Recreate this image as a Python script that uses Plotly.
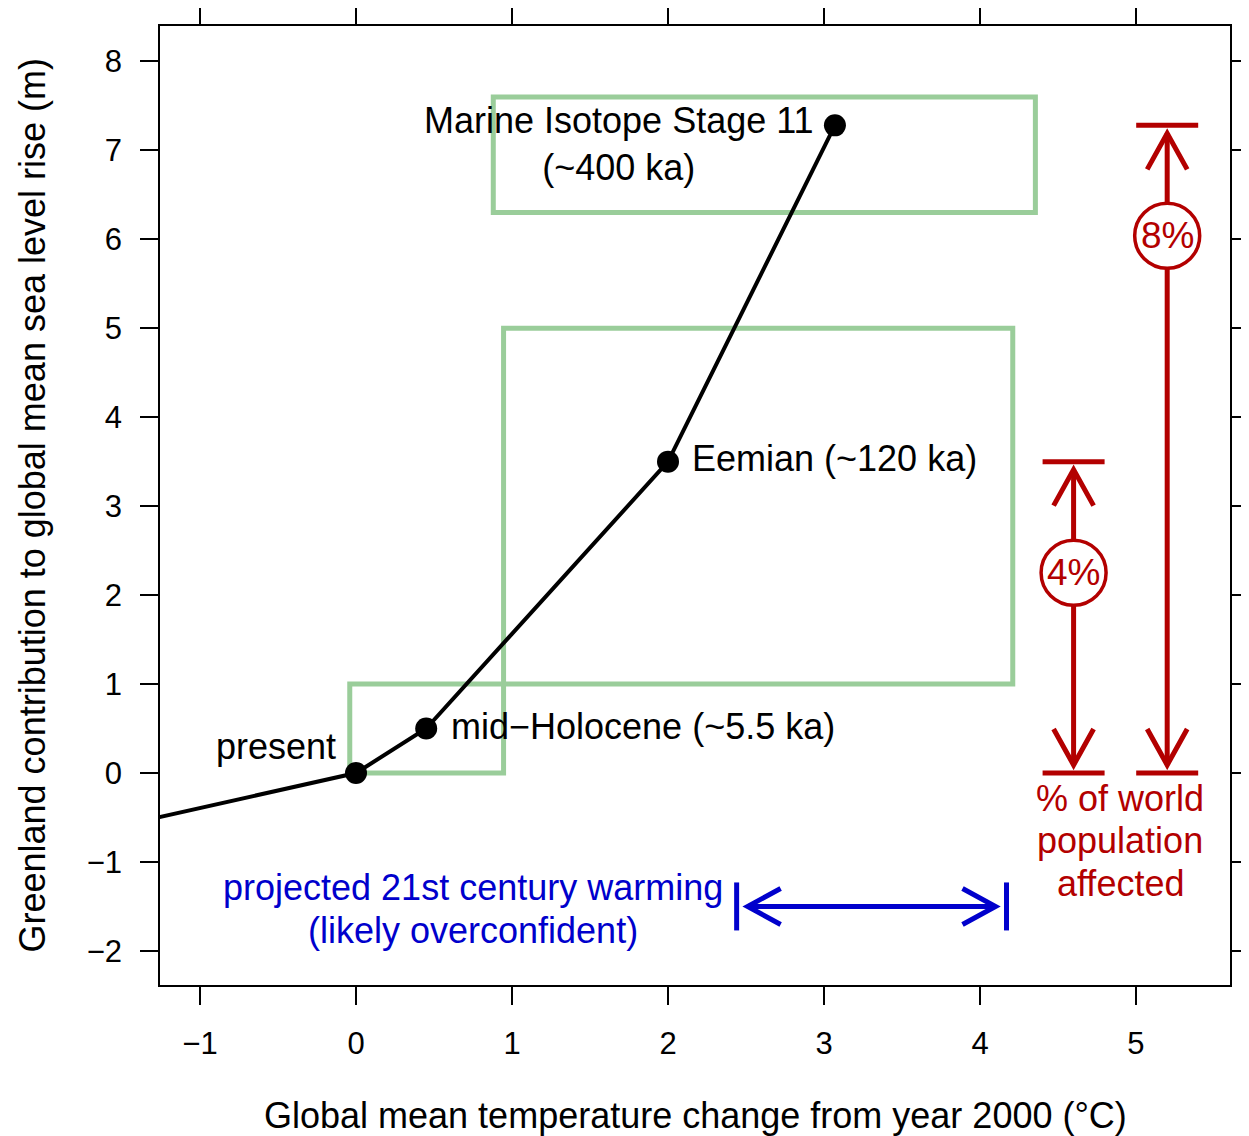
import plotly.graph_objects as go

# Greenland curve (°C warming vs. sea level contribution, m)
curve_x = [-1.5, 0.0, 0.45, 2.0, 3.07]
curve_y = [-0.59, 0.0, 0.5, 3.5, 7.28]

point_x = [0.0, 0.45, 2.0, 3.07]
point_y = [0.0, 0.5, 3.5, 7.28]

# paleo uncertainty boxes
box_x0 = [-0.04, 0.946, 0.88]
box_x1 = [0.946, 4.21, 4.355]
box_y0 = [0.0, 1.0, 6.3]
box_y1 = [1.0, 5.0, 7.6]

# population affected
pop_x = [4.6, 5.2]
pop_top = [3.5, 7.28]
pop_pct = ["4%", "8%"]
pop_circle_y = [2.25, 6.04]
pop_text = ["% of world", "population", "affected"]

# projected 21st century warming
warm_lo, warm_hi, warm_y = 2.44, 4.17, -1.5
warm_text = ["projected 21st century warming", "(likely overconfident)"]

x_range = [-1.2564, 5.6026]
y_range = [-2.383, 8.397]

# page body has an 8px margin, so shift the figure frame accordingly
W, H = 1249, 1136
ML, MR, MT, MB = 152, 27, 18, 159
py = (H - MT - MB) / (y_range[1] - y_range[0])  # px per metre
px = (W - ML - MR) / (x_range[1] - x_range[0])

RED = "#B30000"
BLUE = "#0000CC"
GREEN = "#9ACD9A"
FONT = "Liberation Sans, Arial, Helvetica, sans-serif"

fig = go.Figure()
fig.add_trace(go.Scatter(x=curve_x, y=curve_y, mode="lines",
                         line=dict(color="black", width=4), hoverinfo="skip"))
fig.add_trace(go.Scatter(x=point_x, y=point_y, mode="markers",
                         marker=dict(color="black", size=22), hoverinfo="skip"))

shapes = []
for x0, x1, y0, y1 in zip(box_x0, box_x1, box_y0, box_y1):
    shapes.append(dict(type="rect", x0=x0, x1=x1, y0=y0, y1=y1, layer="below",
                       line=dict(color=GREEN, width=5)))

gap = 8 / py
for x, top, cy in zip(pop_x, pop_top, pop_circle_y):
    shapes.append(dict(type="line", x0=x, x1=x, y0=gap, y1=top - gap,
                       line=dict(color=RED, width=5)))
    for yy in (0, top):
        shapes.append(dict(type="line", xref="x", yref="y", xsizemode="pixel",
                           xanchor=x, x0=-31, x1=31, y0=yy, y1=yy,
                           line=dict(color=RED, width=5)))
    shapes.append(dict(type="path", xsizemode="pixel", ysizemode="pixel",
                       xanchor=x, yanchor=top, path="M-20,-44 L0,-8 L20,-44",
                       line=dict(color=RED, width=5)))
    shapes.append(dict(type="path", xsizemode="pixel", ysizemode="pixel",
                       xanchor=x, yanchor=0, path="M-20,44 L0,8 L20,44",
                       line=dict(color=RED, width=5)))
    shapes.append(dict(type="circle", xsizemode="pixel", ysizemode="pixel",
                       xanchor=x, yanchor=cy, x0=-32.5, x1=32.5, y0=-32.5, y1=32.5,
                       fillcolor="white", line=dict(color=RED, width=3.5)))

tip = 11 / px
shapes.append(dict(type="line", x0=warm_lo + tip, x1=warm_hi - tip, y0=warm_y, y1=warm_y,
                   line=dict(color=BLUE, width=5)))
for xx, sgn in ((warm_lo, 1), (warm_hi, -1)):
    shapes.append(dict(type="line", ysizemode="pixel", yanchor=warm_y,
                       x0=xx, x1=xx, y0=-24, y1=24, line=dict(color=BLUE, width=5)))
    shapes.append(dict(type="path", xsizemode="pixel", ysizemode="pixel",
                       xanchor=xx, yanchor=warm_y,
                       path=f"M{sgn*44},18 L{sgn*11},0 L{sgn*44},-18",
                       line=dict(color=BLUE, width=5)))

ann = []
tf = dict(family=FONT, size=36, color="black")
ann.append(dict(x=point_x[0], y=point_y[0], text="present", xanchor="right",
                yanchor="middle", xshift=-18, yshift=27, font=tf))
ann.append(dict(x=point_x[1], y=point_y[1], text="mid−Holocene (~5.5 ka)", xanchor="left",
                yanchor="middle", xshift=23, yshift=2, font=tf))
ann.append(dict(x=point_x[2], y=point_y[2], text="Eemian (~120 ka)", xanchor="left",
                yanchor="middle", xshift=22, yshift=3, font=tf))
ann.append(dict(x=point_x[3], y=point_y[3], text="Marine Isotope Stage 11<br>(~400 ka)",
                xanchor="right", yanchor="middle", align="center",
                xshift=-19, yshift=-19, font=tf))
for i, (x, cy) in enumerate(zip(pop_x, pop_circle_y)):
    ann.append(dict(x=x, y=cy, text=pop_pct[i], xanchor="center", yanchor="middle",
                    showarrow=False, font=dict(family=FONT, size=37, color=RED)))
for i, t in enumerate(pop_text):
    ann.append(dict(x=4.9, y=0, text=t, xanchor="center", yanchor="middle",
                    yshift=-25 - 42.5 * i, font=dict(family=FONT, size=36, color=RED)))
for i, t in enumerate(warm_text):
    ann.append(dict(x=0.75, y=warm_y, text=t, xanchor="center", yanchor="middle",
                    yshift=19 - 43 * i, font=dict(family=FONT, size=36, color=BLUE)))
ann.append(dict(xref="paper", yref="paper", x=0.5, y=-(1115 - 985) / (H - MT - MB),
                text="Global mean temperature change from year 2000 (°C)",
                xanchor="center", yanchor="middle", font=tf))
ann.append(dict(xref="paper", yref="paper", x=-(128) / (W - ML - MR), y=0.5,
                text="Greenland contribution to global mean sea level rise (m)",
                textangle=-90, xanchor="center", yanchor="middle", font=tf))
for a in ann:
    a["showarrow"] = False

axis = dict(showgrid=False, zeroline=False, showline=True, linecolor="black", linewidth=1.5,
            mirror="ticks", ticks="outside", ticklen=18, tickwidth=1.5, tickcolor="black",
            tickfont=dict(family=FONT, size=31, color="black"))

fig.update_layout(
    width=W, height=H, margin=dict(l=ML, r=MR, t=MT, b=MB, autoexpand=False),
    paper_bgcolor="white", plot_bgcolor="white", showlegend=False,
    xaxis=dict(range=x_range, tickvals=[-1, 0, 1, 2, 3, 4, 5], ticklabelstandoff=12, **axis),
    yaxis=dict(range=y_range, tickvals=list(range(-2, 9)), ticklabelstandoff=12, **axis),
    shapes=shapes, annotations=ann,
)

fig.write_html("out.html")
